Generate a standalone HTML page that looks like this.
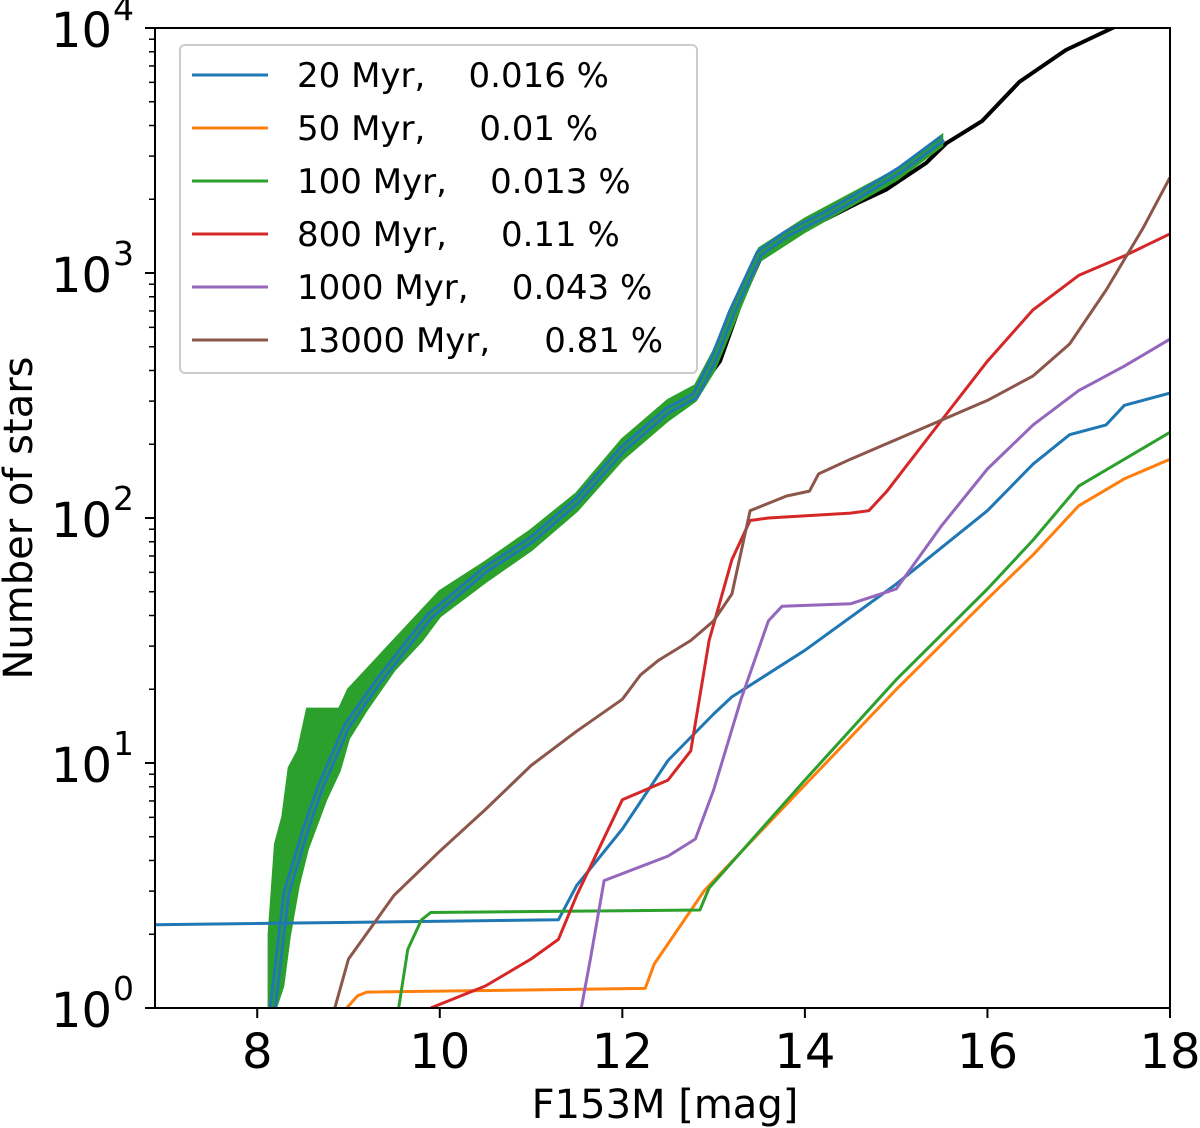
<!DOCTYPE html>
<html><head><meta charset="utf-8"><style>
body{margin:0;background:#fff;}
svg{display:block;font-family:"DejaVu Sans","Liberation Sans",sans-serif;}
.pre{white-space:pre;}
</style></head><body>
<svg id="chart" width="1200" height="1128" viewBox="0 0 1200 1128">
<defs><clipPath id="clip"><rect x="155" y="28" width="1015" height="980"/></clipPath></defs>
<g id="plot" clip-path="url(#clip)"></g>
<g id="axes"></g>
</svg>
<script>
const xMin=6.88, xMax=18;
const pxL=155, pxR=1170, pyTop=28, pyBot=1008;
const X=v=>pxL+(v-xMin)/(xMax-xMin)*(pxR-pxL);
const Y=l=>pyBot-(l/4)*(pyBot-pyTop); // l = log10(N)

const xTicks=[8,10,12,14,16,18];
const yTickExp=[0,1,2,3,4];

// observed (black), log10(N)
const blackX=[12.85,13.07,13.3,13.5,13.7,13.86,14.23,14.6,14.89,15.33,15.55,15.94,16.35,16.86,17.37,17.6];
const blackLog=[2.53,2.64,2.88,3.05,3.13,3.16,3.22,3.29,3.34,3.45,3.53,3.62,3.78,3.91,4.0,4.04];
// fitted thick blue
const fitX=[8.17,8.32,8.54,8.69,8.98,9.34,9.89,10.5,11,11.5,12,12.5,12.8,12.99,13.2,13.5,13.8,14.23,14.6,15.04,15.51];
const fitLog=[0,0.47,0.74,0.9,1.15,1.34,1.6,1.79,1.91,2.07,2.28,2.44,2.5,2.64,2.84,3.08,3.16,3.24,3.32,3.42,3.55];
// green uncertainty band
const bandX=[8.13,8.2,8.28,8.35,8.45,8.55,8.75,8.9,9.0,9.2,9.5,9.8,10,10.5,11,11.5,12,12.5,12.8,13,13.5,14,15,15.5];
const bandLo=[0,0,0.09,0.29,0.5,0.65,0.85,0.97,1.1,1.22,1.38,1.5,1.6,1.74,1.87,2.03,2.24,2.4,2.48,2.6,3.05,3.17,3.38,3.52];
const bandHi=[0.3,0.67,0.78,0.98,1.05,1.22,1.22,1.22,1.3,1.38,1.5,1.62,1.7,1.82,1.95,2.1,2.32,2.48,2.54,2.68,3.1,3.22,3.42,3.56];

const series=[
 {name:"20 Myr",pct:"0.016 %",color:"#1f77b4",
  x:[6.88,11.3,11.5,12,12.5,13,13.2,14,15,16,16.5,16.9,17.3,17.5,18],
  l:[0.34,0.36,0.5,0.73,1.01,1.2,1.27,1.46,1.73,2.03,2.22,2.34,2.38,2.46,2.51]},
 {name:"50 Myr",pct:"0.01 %",color:"#ff7f0e",
  x:[8.98,9.1,9.2,12.25,12.35,12.9,14,15,16,16.5,17,17.5,18],
  l:[0,0.05,0.065,0.08,0.18,0.48,0.91,1.3,1.67,1.85,2.05,2.16,2.24]},
 {name:"100 Myr",pct:"0.013 %",color:"#2ca02c",
  x:[9.55,9.65,9.8,9.9,12.85,12.95,14,15,16,16.5,17,17.5,18],
  l:[0,0.24,0.36,0.39,0.4,0.49,0.93,1.34,1.71,1.91,2.13,2.24,2.35]},
 {name:"800 Myr",pct:"0.11 %",color:"#d62728",
  x:[9.9,10.5,11,11.3,11.5,12,12.5,12.75,12.95,13.2,13.4,13.6,14.5,14.7,14.9,15.5,16,16.5,17,17.5,18],
  l:[0,0.09,0.2,0.28,0.46,0.85,0.93,1.05,1.5,1.83,1.99,2.0,2.02,2.03,2.11,2.4,2.64,2.85,2.99,3.07,3.16]},
 {name:"1000 Myr",pct:"0.043 %",color:"#9467bd",
  x:[11.55,11.65,11.8,12.5,12.8,13,13.3,13.6,13.75,14.5,15,15.5,16,16.5,17,17.5,18],
  l:[0,0.2,0.52,0.62,0.69,0.89,1.26,1.58,1.64,1.65,1.71,1.97,2.2,2.38,2.52,2.62,2.73]},
 {name:"13000 Myr",pct:"0.81 %",color:"#8c564b",
  x:[8.85,9,9.5,10,10.5,11,11.5,12,12.2,12.4,12.75,13,13.2,13.4,13.8,14.05,14.15,14.5,15,15.5,16,16.5,16.9,17.3,17.7,18],
  l:[0,0.2,0.46,0.64,0.81,0.99,1.13,1.26,1.36,1.42,1.5,1.58,1.69,2.03,2.09,2.11,2.18,2.24,2.32,2.4,2.48,2.58,2.71,2.93,3.18,3.39]}
];

const NS="http://www.w3.org/2000/svg";
const plot=document.getElementById('plot');
const axes=document.getElementById('axes');
function mk(tag,attrs,parent){const e=document.createElementNS(NS,tag);for(const k in attrs)e.setAttribute(k,attrs[k]);parent.appendChild(e);return e;}
const pts=(xs,ls)=>xs.map((v,i)=>X(v).toFixed(1)+","+Y(ls[i]).toFixed(1)).join(" ");

// black observed
let b=mk('polyline',{points:pts(blackX,blackLog),fill:'none',stroke:'#000','stroke-width':4,'stroke-linejoin':'round'},plot);


// green band
let bp=bandX.map((v,i)=>X(v).toFixed(1)+","+Y(bandHi[i]).toFixed(1)).concat(bandX.slice().reverse().map((v,j)=>{const i=bandX.length-1-j;return X(v).toFixed(1)+","+Y(bandLo[i]).toFixed(1);})).join(" ");
let band=mk('polygon',{points:bp,fill:'#2ca02c',stroke:'#2ca02c','stroke-width':3},plot);


// blue fit
let fit=mk('polyline',{points:pts(fitX,fitLog),fill:'none',stroke:'#1f77b4','stroke-width':8,'stroke-linejoin':'round'},plot);


let fitc=mk('polyline',{points:pts(fitX,fitLog),fill:'none',stroke:'#2ca02c','stroke-width':2.5,'stroke-linejoin':'round','stroke-opacity':0.8},plot);



series.forEach(s=>{
 const p=mk('polyline',{points:pts(s.x,s.l),fill:'none',stroke:s.color,'stroke-width':3,'stroke-linejoin':'round'},plot);
 
 
});

// frame
let fr=mk('rect',{x:pxL,y:pyTop,width:pxR-pxL,height:pyBot-pyTop,fill:'none',stroke:'#000','stroke-width':2},axes);



// x ticks
xTicks.forEach(t=>{
 mk('line',{x1:X(t),x2:X(t),y1:pyBot,y2:pyBot+10,stroke:'#000','stroke-width':2},axes);
 const tx=mk('text',{x:X(t),y:1068,'text-anchor':'middle','font-size':48},axes);
 tx.textContent=t;
 
 
});
// y ticks
yTickExp.forEach(e=>{
 const y=Y(e);
 mk('line',{x1:pxL-10,x2:pxL,y1:y,y2:y,stroke:'#000','stroke-width':2},axes);
 const tx=mk('text',{x:112,y:y+19,'text-anchor':'end','font-size':48},axes);
 tx.textContent='10';
 
 
 const sp=mk('text',{x:113,y:y-8,'font-size':33},axes);
 sp.textContent=e;
 if(e<4){for(let m=2;m<=9;m++){const ym=Y(e+Math.log10(m));mk('line',{x1:pxL-6,x2:pxL,y1:ym,y2:ym,stroke:'#000','stroke-width':1.5},axes);}}
});
// axis titles
let xl=mk('text',{x:665,y:1118,'text-anchor':'middle','font-size':40},axes);
xl.textContent='F153M [mag]';


let yl=mk('text',{x:0,y:0,'text-anchor':'middle','font-size':40,transform:'translate(32,518) rotate(-90)'},axes);
yl.textContent='Number of stars';



// legend
const lg=mk('g',{},axes);


mk('rect',{x:180,y:45,width:517,height:328,rx:5,fill:'#fff','fill-opacity':0.85,stroke:'#ccc','stroke-width':2},lg);
const pad=[4,5,4,5,4,5];
series.forEach((s,i)=>{
 const y=75+i*53;
 mk('line',{x1:192,x2:268,y1:y,y2:y,stroke:s.color,'stroke-width':3},lg);
 const t=mk('text',{x:297,y:y+12,'font-size':34,'class':'pre'},lg);
 t.textContent=s.name+','+' '.repeat(pad[i])+s.pct;
 
 
});
</script>
</body></html>
